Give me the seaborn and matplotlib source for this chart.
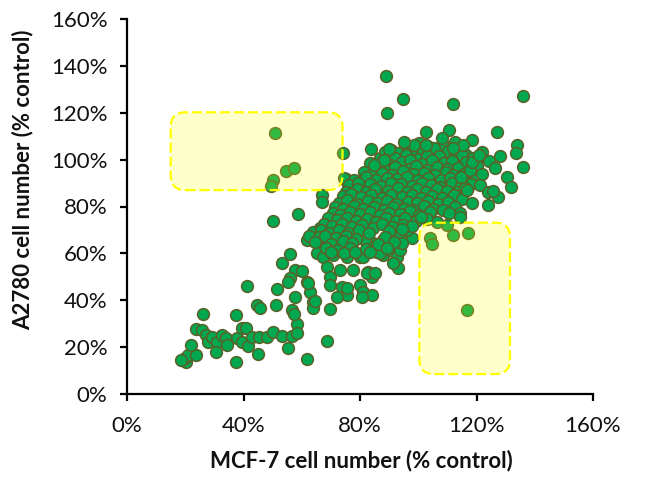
import matplotlib
matplotlib.use("Agg")
import matplotlib.pyplot as plt
import seaborn as sns
import pandas as pd
from matplotlib.patches import FancyBboxPatch

sns.set_style("ticks")
plt.rcParams['font.family'] = ['Lato', 'DejaVu Sans']

# ---------------- data (MCF-7 %, A2780 %) ----------------
tail = [(20.2,13.7),(19.9,15.4),(20.9,16.6),(23.7,16.6),(21.9,20.9),(18.6,14.3),(26.1,34.1),
        (23.7,27.7),(25.7,27.3),(27.1,25.2),(27.8,22.2),(29.1,24.3),(30.9,22.2),(30.5,17.9),
        (32.6,25.2),(33.9,23.9),(34.3,20.9),(37.7,23.9),(39.4,28.2),(40.8,28.2),(39.4,22.2),
        (41.5,20.5),(42.9,24.3),(44.9,17.1),(45.3,24.3),(48.0,24.3),(50.1,26.5),(37.4,33.7),
        (37.4,13.7),(44.6,38.0),(45.6,36.7),(51.1,38.0),(51.4,44.8),(41.1,46.1),(53.1,24.7),
        (55.2,19.6),(56.6,24.7),(58.3,29.9),(58.3,26.0),(61.7,14.9),(68.6,22.6),(69.6,36.3),
        (56.6,35.8),(57.2,34.1),(57.6,41.4)]

mid = [(53.1,55.9),(55.9,59.7),(57.6,52.9),(60.0,52.5),(55.9,49.5),(55.2,47.8),(61.7,47.8),
       (62.7,43.5),(63.8,39.2),(63.8,36.7),(64.5,39.7),(62.1,47.4),(66.8,84.9),(66.8,81.9),
       (58.6,76.8),(50.1,73.8),(75.4,90.4),(75.1,91.7),(74.1,102.8),(66.2,70.8),(66.8,68.7),
       (68.5,68.0),(63.4,65.7),(61.7,65.7),(65.8,64.4),(69.6,63.6),(73.0,63.6),(76.4,64.4),
       (65.1,60.2),(67.2,58.4),(70.6,59.3),(75.4,58.4),(79.9,58.4),(85.7,60.6),(87.8,59.3),
       (90.2,61.4),(92.6,58.4),(68.6,54.2),(69.6,49.9),(73.0,52.9),(77.5,52.9),(82.6,52.0),
       (84.0,49.9),(69.6,46.5),(73.7,45.6),(75.4,42.2),(79.9,46.5),(80.9,43.5),(84.0,42.2),
       (80.6,41.4),(72.0,41.4),(75.4,45.2),(82.3,51.6),(85.0,51.6),(80.9,58.4),(86.7,60.2),
       (93.6,61.4),(92.9,53.8),(91.2,55.9),(98.0,66.6),(96.3,70.0),(93.6,68.7),(94.3,64.4),
       (87.8,65.7),(84.3,64.4),(81.6,65.7)]

core = [(95.5,106.1),(100.2,107.0),(103.6,105.4),(108.4,106.3),(112.5,107.6),
        (90.8,104.1),(93.2,102.9),(97.9,104.6),(101.5,103.3),(105.4,104.9),(110.3,103.6),(114.6,104.2),(116.4,102.1),
        (86.9,100.9),(88.5,103.2),(92.1,100.6),(95.8,101.9),(99.9,100.2),(103.1,101.7),(107.2,101.4),(112.4,100.6),(114.9,101.8),(120.1,100.4),
        (83.6,98.6),(87.9,99.4),(90.4,97.9),(94.5,99.1),(97.2,100.0),(101.4,98.2),(104.7,99.8),(108.9,98.4),(111.5,99.6),(116.3,98.9),(118.7,100.9),
        (85.2,96.7),(88.6,95.8),(91.9,96.9),(96.9,96.1),(99.1,97.3),(102.9,95.6),(106.5,97.0),(109.8,95.9),(113.8,96.6),(117.5,95.2),(120.3,97.4),
        (81.4,94.9),(83.9,93.6),(87.5,94.1),(90.9,93.3),(94.6,95.0),(98.4,93.8),(101.9,94.4),(105.7,93.5),(109.6,94.9),(112.1,93.4),(115.8,94.0),(119.5,93.1),
        (74.6,92.3),(78.1,91.4),(82.0,92.6),(85.6,91.1),(89.1,92.0),(92.8,91.6),(96.2,92.7),(99.8,91.2),(103.5,92.3),(107.9,91.5),(111.0,92.2),(115.1,90.8),(119.7,91.9),
        (76.3,89.0),(79.4,90.2),(83.5,89.6),(87.2,88.8),(90.8,90.1),(94.1,89.4),(97.7,88.6),(101.2,90.0),(104.3,89.1),(107.4,88.4),(111.7,89.9),(114.7,88.9),(118.2,89.6),
        (75.2,86.4),(78.8,87.6),(81.9,86.1),(85.3,87.3),(89.6,86.6),(93.1,87.8),(96.0,86.2),(99.5,87.4),(102.8,86.0),(106.3,87.5),(109.9,86.8),(113.4,86.1),(116.0,87.7),
        (74.1,84.3),(77.0,85.2),(80.4,83.9),(83.7,84.9),(87.4,83.6),(90.6,84.8),(94.3,84.1),(97.9,85.0),(101.0,83.7),(104.8,84.6),(108.2,83.5),(112.2,84.7),(115.1,83.2),
        (72.8,81.7),(75.7,82.6),(79.1,81.2),(82.6,82.3),(85.9,81.4),(89.4,82.5),(92.5,81.0),(96.5,82.1),(99.6,81.6),(103.2,82.4),(106.9,81.1),(110.1,82.0),
        (71.5,79.8),(74.3,79.0),(77.8,80.1),(81.2,78.9),(84.9,79.6),(88.3,78.5),(91.4,80.0),(95.0,79.1),(98.2,78.6),(101.9,80.2),(105.1,79.0),(108.6,78.7),(112.6,79.9),
        (70.6,77.3),(73.2,76.5),(76.4,77.6),(79.9,76.9),(83.3,77.8),(86.8,76.2),(90.0,77.4),(93.9,76.8),(97.1,77.9),(100.4,76.4),(104.2,77.5),
        (69.0,75.2),(72.0,74.3),(75.5,75.0),(78.7,73.9),(82.4,74.8),(85.5,73.6),(88.9,75.3),(92.4,74.0),(95.6,74.9),(99.3,73.8),(103.0,74.6),
        (67.6,72.4),(70.4,71.6),(73.9,72.7),(77.1,71.3),(80.8,72.2),(84.4,71.0),(87.5,72.5),(91.1,71.2),(94.7,72.0),(98.0,71.5),
        (63.9,69.1),(66.5,70.0),(69.3,68.9),(72.9,69.8),(76.0,68.6),(79.7,69.9),(83.0,68.7),(89.9,69.5),(94.4,70.2),
        (62.6,67.4),(65.9,66.8),(68.1,67.6),(71.6,66.5),(75.2,67.3),(78.5,66.2),(88.7,67.1),
        (64.6,64.9),(70.2,64.1),(74.0,65.2),(77.4,64.3),(86.1,63.8),(91.6,65.0),
        (68.4,62.3),(72.2,61.6),(76.5,62.4),(81.9,61.9),(89.4,62.1),
        (70.0,60.5),(74.6,60.1),(78.3,60.8),(83.6,60.4)]

upper = [(88.8,135.7),(94.6,125.9),(89.1,119.9),(112.1,123.7),(136.1,127.1),(127.2,111.8),
         (134.0,106.2),(133.4,102.8),(128.2,101.5),(135.8,96.8),(130.6,92.6),(132.0,88.3),
         (127.5,84.0),(123.8,80.6),(118.3,81.5),(121.9,93.9),(121.3,89.2),(123.8,86.2),
         (125.8,86.6),(116.6,87.0),(114.8,92.6),(117.6,95.6),(118.6,99.0),(124.4,99.4),
         (126.2,96.4),(122.0,103.2),(121.0,102.0),(118.6,108.4),(115.2,106.2),(112.1,104.9),
         (110.4,112.6),(108.3,109.2),(102.5,111.8),(102.8,106.2),(98.7,106.2),(95.0,107.5),
         (89.8,104.5),(83.7,104.5),(88.4,99.8),(84.7,97.7),(114.2,77.2),(110.7,77.2),
         (101.1,75.5),(106.6,73.4),(110.0,72.1),(114.2,75.5)]

boxed = [(50.7,111.3),(54.5,95.1),(57.3,96.4),(50.1,91.3),(49.4,88.7),
         (104.2,66.6),(104.6,64.0),(112.1,67.8),(117.2,68.7),(116.9,35.8)]

x_ticks = [0, 40, 80, 120, 160]
x_tick_labels = ["0%", "40%", "80%", "120%", "160%"]
y_ticks = [0, 20, 40, 60, 80, 100, 120, 140, 160]
y_tick_labels = ["0%", "20%", "40%", "60%", "80%", "100%", "120%", "140%", "160%"]
x_title = "MCF-7 cell number (% control)"
y_title = "A2780 cell number (% control)"

# highlight regions (x0, y0, x1, y1) in data units
highlight_boxes = [(15.0, 87.0, 74.0, 120.2), (100.4, 8.5, 131.5, 73.1)]

# ---------------- figure ----------------
df = pd.DataFrame(tail + mid + core + upper + boxed, columns=["MCF-7", "A2780"])

fig = plt.figure(figsize=(6.72, 4.84), dpi=100)
ax = fig.add_axes([127/672, 1 - 394/484, 466/672, 375/484])

sns.scatterplot(data=df, x="MCF-7", y="A2780", s=72, color="#00A850",
                edgecolor="#5A6128", linewidth=1.1, ax=ax, legend=False, zorder=2)

for (x0, y0, x1, y1) in highlight_boxes:
    patch = FancyBboxPatch((x0, y0), x1 - x0, y1 - y0,
                           boxstyle="round,pad=0,rounding_size=5.1",
                           mutation_aspect=1.245,
                           facecolor=(1, 1, 0, 0.2), edgecolor=(1, 1, 0, 1),
                           linewidth=1.6, linestyle=(0, (4.5, 1.8)), zorder=3)
    ax.add_patch(patch)

ax.set_xlim(0, 160)
ax.set_ylim(0, 160)
ax.set_xticks(x_ticks)
ax.set_xticklabels(x_tick_labels)
ax.set_yticks(y_ticks)
ax.set_yticklabels(y_tick_labels)

for side in ["top", "right"]:
    ax.spines[side].set_visible(False)
for side in ["left", "bottom"]:
    ax.spines[side].set_linewidth(1.6)
    ax.spines[side].set_color("black")

ax.tick_params(axis="both", direction="out", length=5, width=1.6, colors="black",
               labelsize=16, labelcolor="#111111")
ax.tick_params(axis="x", pad=11)
ax.tick_params(axis="y", pad=9)

ax.set_xlabel(x_title, fontsize=16, fontweight="bold", color="#111111")
ax.set_ylabel(y_title, fontsize=16, fontweight="bold", color="#111111")
ax.xaxis.set_label_coords(0.502, -0.148)
ax.yaxis.set_label_coords(-0.20, 0.571)

fig.savefig("out.png", dpi=100)
